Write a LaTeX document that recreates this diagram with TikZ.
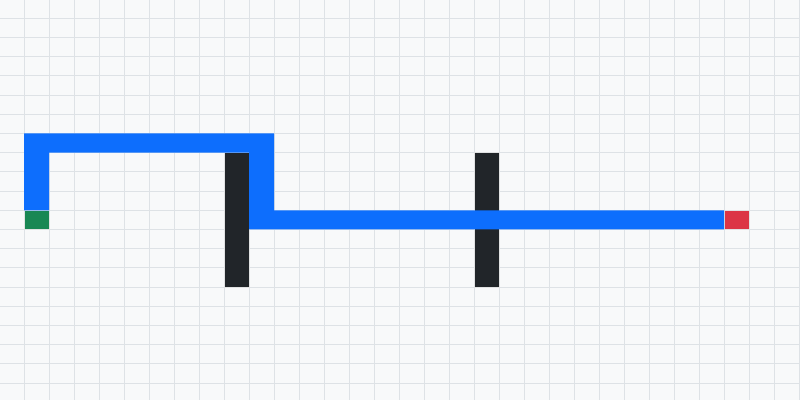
\documentclass[tikz,border=0pt]{standalone}
\definecolor{bgcol}{HTML}{F8F9FA}
\definecolor{gridcol}{HTML}{DEE2E6}
\definecolor{pathcol}{HTML}{0D6EFD}
\definecolor{wallcol}{HTML}{212529}
\definecolor{startcol}{HTML}{198754}
\definecolor{goalcol}{HTML}{DC3545}
\begin{document}
\begin{tikzpicture}[x=25bp, y=-19.2bp, line join=miter]
	\tikzset{cell/.style={draw=gridcol!70!black!30, line width=0.4bp}}
	% canvas
	\fill[bgcol] (-0.96,-0.953) rectangle (31.04,19.88);
	\useasboundingbox (-0.96,-0.953) rectangle (31.04,19.88);
	\draw[gridcol, line width=0.9bp, step={(1,-1)}] (-0.96,-0.953) grid (31.04,19.88);
	% walls
	\foreach \c in {8,18}
		\fill[wallcol, cell] (\c,7) rectangle (\c+1,14);
	% start and goal
	\filldraw[startcol, cell] (0,10) rectangle (1,11);
	\filldraw[goalcol, cell] (28,10) rectangle (29,11);
	% path
	\fill[pathcol] (0,6) -- (10,6) -- (10,10) -- (28,10) -- (28,11) -- (9,11)
		-- (9,7) -- (1,7) -- (1,10) -- (0,10) -- cycle;
\end{tikzpicture}
\end{document}
